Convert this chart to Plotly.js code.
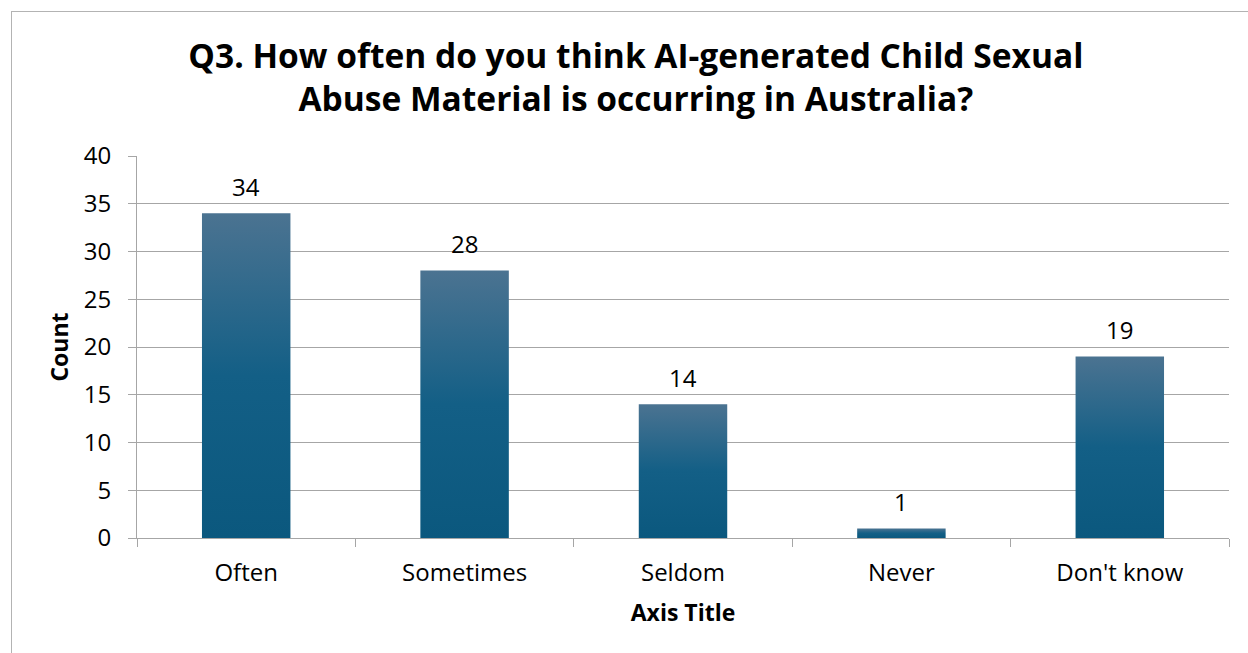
<!DOCTYPE html>
<html>
<head>
<meta charset="utf-8">
<script src="https://cdn.plot.ly/plotly-3.0.1.min.js"></script>
<style>
  html, body { margin: 0; padding: 0; background: #ffffff; }
  #wrap { position: relative; width: 1248px; height: 653px; overflow: hidden; }
  #chart { width: 1248px; height: 653px; }
  #frame { position: absolute; left: 11px; top: 11px; width: 1260px; height: 700px;
           border: 1px solid #b3b3b3; pointer-events: none; box-sizing: border-box; }
</style>
</head>
<body>
<div id="wrap">
  <div id="chart"></div>
  <div id="frame"></div>
</div>
<script>
const categories = ["Often", "Sometimes", "Seldom", "Never", "Don't know"];
const counts = [34, 28, 14, 1, 19];
const yTicks = [0, 5, 10, 15, 20, 25, 30, 35, 40];

const FONT = "Open Sans, Liberation Sans, Arial, sans-serif";
const TICKSIZE = 24;

const trace = {
  type: "bar",
  x: categories,
  y: counts,
  marker: { color: "#135f86", line: { width: 0 } },
  width: 0.405,
  hoverinfo: "x+y"
};

const labelAnnotations = categories.map((c, i) => ({
  x: c,
  y: counts[i],
  xref: "x",
  yref: "y",
  text: String(counts[i]),
  showarrow: false,
  yanchor: "middle",
  yshift: 27,
  font: { family: FONT, size: TICKSIZE, color: "#000000" }
}));

const layout = {
  width: 1248,
  height: 653,
  margin: { l: 137, r: 19, t: 156, b: 115 },
  paper_bgcolor: "#ffffff",
  plot_bgcolor: "#ffffff",
  showlegend: false,
  annotations: labelAnnotations,
  title: {
    text: "<b>Q3. How often do you think AI-generated Child Sexual<br>Abuse Material is occurring in Australia?</b>",
    font: { family: FONT, size: 33.5, color: "#000000" },
    x: 0.5095, xanchor: "center",
    y: 0.896, yanchor: "middle"
  },
  xaxis: {
    type: "category",
    showline: true,
    linecolor: "#a6a6a6",
    linewidth: 1,
    ticks: "outside",
    tickson: "boundaries",
    ticklen: 8,
    tickcolor: "#a6a6a6",
    ticklabelstandoff: 13,
    tickfont: { family: FONT, size: TICKSIZE, color: "#000000" },
    showgrid: false,
    title: { text: "<b>Axis Title</b>", font: { family: FONT, size: 23, color: "#000000" }, standoff: 18 }
  },
  yaxis: {
    range: [0, 40],
    tickvals: yTicks,
    ticktext: yTicks.map(String),
    showline: true,
    linecolor: "#a6a6a6",
    linewidth: 1,
    ticks: "outside",
    ticklen: 8,
    tickcolor: "#a6a6a6",
    ticklabelstandoff: 12,
    showgrid: true,
    gridcolor: "#a6a6a6",
    gridwidth: 1,
    zeroline: false,
    tickfont: { family: FONT, size: TICKSIZE, color: "#000000" },
    title: { text: "<b>Count</b>", font: { family: FONT, size: 23, color: "#000000" }, standoff: 8 }
  },
  bargap: 0.595
};

function applyGradient(gd) {
  const svg = gd.querySelector("svg.main-svg");
  if (!svg) return;
  const NS = "http://www.w3.org/2000/svg";
  let defs = svg.querySelector("defs");
  if (!defs) { defs = document.createElementNS(NS, "defs"); svg.insertBefore(defs, svg.firstChild); }
  if (!svg.querySelector("#barGrad")) {
    const lg = document.createElementNS(NS, "linearGradient");
    lg.setAttribute("id", "barGrad");
    lg.setAttribute("x1", "0"); lg.setAttribute("y1", "0");
    lg.setAttribute("x2", "0"); lg.setAttribute("y2", "1");
    [["0", "#4b7391"], ["0.5", "#135f86"], ["1", "#0b587e"]].forEach(([o, c]) => {
      const s = document.createElementNS(NS, "stop");
      s.setAttribute("offset", o); s.setAttribute("stop-color", c);
      lg.appendChild(s);
    });
    defs.appendChild(lg);
  }
  gd.querySelectorAll(".barlayer .point path").forEach(p => {
    p.style.fill = "url(#barGrad)";
  });
}

const gd = document.getElementById("chart");
Plotly.newPlot(gd, [trace], layout, { displayModeBar: false, responsive: false }).then(() => {
  applyGradient(gd);
  gd.on("plotly_afterplot", () => applyGradient(gd));
});
</script>
</body>
</html>
